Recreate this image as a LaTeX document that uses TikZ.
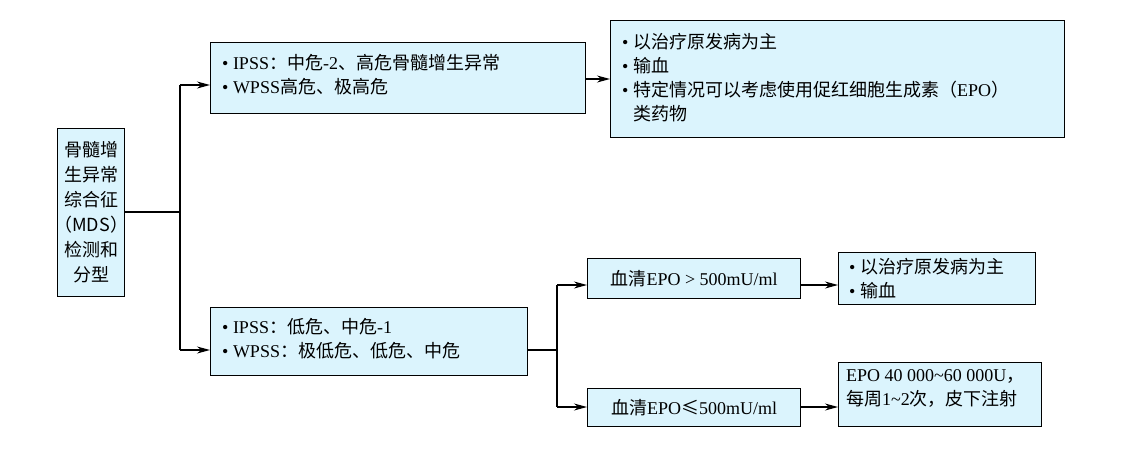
\documentclass[tikz,border=0pt]{standalone}
\usepackage{fontspec}
\setmainfont{Liberation Serif}
\newfontfamily\cjk{Noto Sans CJK SC}
\usetikzlibrary{arrows.meta}
\begin{document}
\begin{tikzpicture}[x=1pt,y=-1pt,
  bx/.style={draw=black,line width=1.3pt,fill=cyan!14!white,inner sep=0pt},
  tx/.style={anchor=north west,align=left,font=\fontsize{18}{24}\selectfont,inner sep=0pt},
  ar/.style={line width=1.2pt,-{Stealth[length=13pt,width=7pt]}},
  ln/.style={line width=1.2pt}]
\useasboundingbox (0,0) rectangle (1141,456);
\fill[white] (0,0) rectangle (1141,456);
% boxes
\node[bx,minimum width=67,minimum height=168,anchor=north west] (L) at (57,128) {};
\node[font=\fontsize{18}{25}\selectfont,align=center] at (L.center) {\cjk 骨髓增\\\cjk 生异常\\\cjk 综合征\\\cjk（MDS）\\\cjk 检测和\\\cjk 分型};
\node[bx,minimum width=375,minimum height=71,anchor=north west] (A) at (210,42) {};
\node[tx] at (222,54) {• IPSS{\cjk ：中危}-2{\cjk 、高危骨髓增生异常}\\• WPSS{\cjk 高危、极高危}};
\node[bx,minimum width=454,minimum height=117,anchor=north west] (B) at (610,20) {};
\node[tx] at (622,33) {• {\cjk 以治疗原发病为主}\\• {\cjk 输血}\\• {\cjk 特定情况可以考虑使用促红细胞生成素（}EPO{\cjk ）}\\\phantom{• }{\cjk 类药物}};
\node[bx,minimum width=317,minimum height=68,anchor=north west] (C) at (210,307) {};
\node[tx] at (222,318) {• IPSS{\cjk ：低危、中危}-1\\• WPSS{\cjk ：极低危、低危、中危}};
\node[bx,minimum width=213,minimum height=40,anchor=north west] (D) at (587,258) {};
\node[font=\fontsize{18}{24}\selectfont] at (D.center) {{\cjk 血清}EPO > 500mU/ml};
\node[bx,minimum width=197,minimum height=52,anchor=north west] (E) at (838,252) {};
\node[tx] at (849,258) {• {\cjk 以治疗原发病为主}\\• {\cjk 输血}};
\node[bx,minimum width=213,minimum height=38,anchor=north west] (F) at (587,388) {};
\node[font=\fontsize{18}{24}\selectfont] at (F.center) {{\cjk 血清}EPO{\cjk ≤}500mU/ml};
\node[bx,minimum width=203,minimum height=64,anchor=north west] (G) at (838,362) {};
\node[tx] at (846,369) {EPO 40 000\textasciitilde60 000U{\cjk ，}\\{\cjk 每周}1\textasciitilde2{\cjk 次，皮下注射}};
% connectors
\coordinate (j1) at (180,212);
\draw[ln] (L.east |- j1) -- (j1);
\draw[ln] (180,85) -- (180,350);
\draw[ar] (180,85) -- (A.west |- 0,85);
\draw[ar] (180,350) -- (C.west |- 0,350);
\draw[ar] (A.east |- 0,79) -- (B.west |- 0,79);
\draw[ln] (C.east |- 0,350) -- (557,350);
\draw[ln] (557,285) -- (557,407);
\draw[ar] (557,285) -- (D.west |- 0,285);
\draw[ar] (557,407) -- (F.west |- 0,407);
\draw[ar] (D.east |- 0,285) -- (E.west |- 0,285);
\draw[ar] (F.east |- 0,407) -- (G.west |- 0,407);
\end{tikzpicture}
\end{document}
